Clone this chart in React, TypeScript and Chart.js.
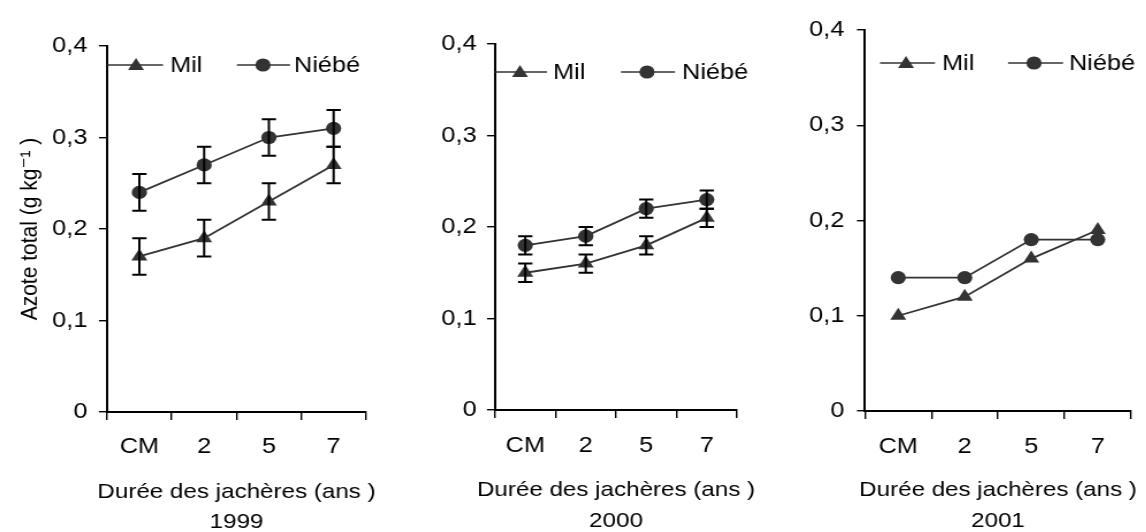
import React, { useEffect, useRef } from 'react';
import { Chart, registerables } from 'chart.js';

Chart.register(...registerables);

// ---------- data ----------
const categories = ['CM', '2', '5', '7'];
const yTickLabels = ['0', '0,1', '0,2', '0,3', '0,4'];
const years = ['1999', '2000', '2001'];
const seriesNames = ['Mil', 'Niébé'];
const xTitle = 'Durée des jachères (ans )';
const yTitle = 'Azote total (g kg⁻¹ )';

const mil1999 = [0.17, 0.19, 0.23, 0.27];
const milErr1999 = [0.02, 0.02, 0.02, 0.02];
const niebe1999 = [0.24, 0.27, 0.30, 0.31];
const niebeErr1999 = [0.02, 0.02, 0.02, 0.02];

const mil2000 = [0.15, 0.16, 0.18, 0.21];
const milErr2000 = [0.01, 0.01, 0.01, 0.01];
const niebe2000 = [0.18, 0.19, 0.22, 0.23];
const niebeErr2000 = [0.01, 0.01, 0.01, 0.01];

const mil2001 = [0.10, 0.12, 0.16, 0.19];
const niebe2001 = [0.14, 0.14, 0.18, 0.18];

const panels = [
  { year: years[0], mil: mil1999, milErr: milErr1999, niebe: niebe1999, niebeErr: niebeErr1999, showYTitle: true },
  { year: years[1], mil: mil2000, milErr: milErr2000, niebe: niebe2000, niebeErr: niebeErr2000, showYTitle: false },
  { year: years[2], mil: mil2001, milErr: null, niebe: niebe2001, niebeErr: null, showYTitle: false },
];

// ---------- layout (page pixels) ----------
const STRETCH = 1.15;
const PAGE_H = 532;
const FONT = "'Liberation Sans', Arial, 'DejaVu Sans', sans-serif";
const INK = '#333333';

const layoutCfg = [
  { cx: 0, cw: 380, left: 107, right: 366, top: 46, bottom: 412, yPad: 10, xPad: 14, titleY: [492, 522],
    legend: { y: 65, mil: [107, 163, 136, 170], niebe: [237, 290, 263, 294] } },
  { cx: 380, cw: 380, left: 495, right: 737, top: 44, bottom: 410, yPad: 9, xPad: 15, titleY: [490, 521],
    legend: { y: 72, mil: [495, 547, 520, 553], niebe: [621, 675, 647, 682] } },
  { cx: 760, cw: 386, left: 865, right: 1131, top: 30, bottom: 411, yPad: 11, xPad: 15, titleY: [490, 521],
    legend: { y: 63, mil: [880, 935, 906, 942], niebe: [1008, 1063, 1034, 1069] } },
];

function drawTriangle(ctx: CanvasRenderingContext2D, x: number, y: number, r: number) {
  ctx.beginPath();
  ctx.moveTo(x, y - r);
  ctx.lineTo(x + r * Math.sin((2 * Math.PI) / 3), y + r / 2);
  ctx.lineTo(x - r * Math.sin((2 * Math.PI) / 3), y + r / 2);
  ctx.closePath();
  ctx.fill();
}

function drawCircle(ctx: CanvasRenderingContext2D, x: number, y: number, r: number) {
  ctx.beginPath();
  ctx.arc(x, y, r, 0, Math.PI * 2);
  ctx.fill();
}

const TRI_R = 8;
const CIRC_R = 6.6;

function Panel({ idx }: { idx: number }) {
  const ref = useRef<HTMLCanvasElement>(null);
  const L = layoutCfg[idx];
  const P = panels[idx];
  const iw = Math.round(L.cw / STRETCH);
  const sx = L.cw / iw;

  useEffect(() => {
    const toX = (px: number) => (px - L.cx) / sx;
    const yAxisWidth = toX(L.left);
    const padRight = iw - toX(L.right);
    const xAxisHeight = PAGE_H - L.bottom;

    const errorBars = {
      id: 'errorBars',
      afterDatasetsDraw(chart: any) {
        const ctx = chart.ctx as CanvasRenderingContext2D;
        const ys = chart.scales.y;
        const errs = [P.milErr, P.niebeErr];
        ctx.save();
        ctx.strokeStyle = '#000';
        ctx.lineWidth = 2;
        errs.forEach((err, di) => {
          if (!err) return;
          const data = chart.data.datasets[di].data as number[];
          const meta = chart.getDatasetMeta(di);
          err.forEach((e: number, i: number) => {
            const px = meta.data[i].x;
            const yHi = ys.getPixelForValue(data[i] + e);
            const yLo = ys.getPixelForValue(data[i] - e);
            const cap = 6.2;
            ctx.beginPath();
            ctx.moveTo(px, yHi);
            ctx.lineTo(px, yLo);
            ctx.moveTo(px - cap, yHi);
            ctx.lineTo(px + cap, yHi);
            ctx.moveTo(px - cap, yLo);
            ctx.lineTo(px + cap, yLo);
            ctx.stroke();
          });
        });
        ctx.restore();
      },
    };

    const legendPlugin = {
      id: 'customLegend',
      afterDraw(chart: any) {
        const ctx = chart.ctx as CanvasRenderingContext2D;
        const lg = L.legend;
        ctx.save();
        ctx.strokeStyle = INK;
        ctx.fillStyle = INK;
        ctx.lineWidth = 1.6;
        ctx.beginPath();
        ctx.moveTo(toX(lg.mil[0]), lg.y);
        ctx.lineTo(toX(lg.mil[1]), lg.y);
        ctx.stroke();
        drawTriangle(ctx, toX(lg.mil[2]), lg.y + 1, TRI_R);
        ctx.beginPath();
        ctx.moveTo(toX(lg.niebe[0]), lg.y);
        ctx.lineTo(toX(lg.niebe[1]), lg.y);
        ctx.stroke();
        drawCircle(ctx, toX(lg.niebe[2]), lg.y, CIRC_R);
        ctx.fillStyle = '#000';
        ctx.font = `22px ${FONT}`;
        ctx.textAlign = 'left';
        ctx.textBaseline = 'middle';
        ctx.fillText(seriesNames[0], toX(lg.mil[3]), lg.y + 1);
        ctx.fillText(seriesNames[1], toX(lg.niebe[3]), lg.y + 1);

        // x-axis title (two lines), centred under the plot area
        const ca = chart.chartArea;
        const cxm = (ca.left + ca.right) / 2;
        ctx.font = `21px ${FONT}`;
        ctx.textAlign = 'center';
        ctx.fillText(xTitle, cxm, L.titleY[0]);
        ctx.fillText(P.year, cxm, L.titleY[1]);
        ctx.restore();
      },
    };

    const chart = new Chart(ref.current as HTMLCanvasElement, {
      type: 'line',
      data: {
        labels: categories,
        datasets: [
          {
            label: seriesNames[0],
            data: P.mil,
            borderColor: INK,
            backgroundColor: INK,
            borderWidth: 1.8,
            pointStyle: 'triangle',
            pointRadius: TRI_R,
            pointBackgroundColor: INK,
            pointBorderColor: INK,
            pointBorderWidth: 0,
            tension: 0,
            fill: false,
          },
          {
            label: seriesNames[1],
            data: P.niebe,
            borderColor: INK,
            backgroundColor: INK,
            borderWidth: 1.8,
            pointStyle: 'circle',
            pointRadius: CIRC_R,
            pointBackgroundColor: INK,
            pointBorderColor: INK,
            pointBorderWidth: 0,
            tension: 0,
            fill: false,
          },
        ],
      },
      options: {
        responsive: false,
        animation: false,
        devicePixelRatio: 1,
        layout: { padding: { top: L.top, right: padRight, bottom: 0, left: 0 } },
        plugins: {
          legend: { display: false },
          tooltip: { enabled: false },
          title: { display: false },
        },
        scales: {
          x: {
            type: 'category',
            offset: true,
            grid: {
              display: true,
              drawOnChartArea: false,
              drawTicks: true,
              tickLength: 8,
              offset: true,
              color: '#000',
              lineWidth: 1.4,
            },
            border: { display: true, color: '#000', width: 2 },
            ticks: {
              color: '#000',
              font: { size: 22, family: FONT },
              padding: L.xPad,
              maxRotation: 0,
              autoSkip: false,
              callback: (_v: any, i: number) => categories[i],
            },
            title: { display: false },
            afterFit: (s: any) => {
              s.height = xAxisHeight;
            },
          },
          y: {
            type: 'linear',
            min: 0,
            max: 0.4,
            grid: {
              display: true,
              drawOnChartArea: false,
              drawTicks: true,
              tickLength: 7,
              color: '#000',
              lineWidth: 1.4,
            },
            border: { display: true, color: '#000', width: 2 },
            ticks: {
              stepSize: 0.1,
              color: '#000',
              font: { size: 22, family: FONT },
              padding: L.yPad,
              callback: (v: any, i: number) => yTickLabels[i] ?? String(v),
            },
            title: {
              display: P.showYTitle,
              text: yTitle,
              color: '#000',
              font: { size: 21, family: FONT, lineHeight: 1.2 },
              padding: { top: 14, bottom: 0 },
            },
            afterFit: (s: any) => {
              s.width = yAxisWidth;
            },
          },
        },
      },
      plugins: [errorBars, legendPlugin],
    } as any);

    return () => chart.destroy();
  }, []);

  return (
    <div
      style={{
        position: 'absolute',
        left: L.cx,
        top: 0,
        width: iw,
        height: PAGE_H,
        transform: `scaleX(${sx})`,
        transformOrigin: '0 0',
      }}
    >
      <canvas ref={ref} width={iw} height={PAGE_H} />
    </div>
  );
}

export default function App() {
  return (
    <div
      style={{
        position: 'absolute',
        left: 0,
        top: 0,
        width: 1146,
        height: PAGE_H,
        overflow: 'hidden',
        background: '#fff',
      }}
    >
      {panels.map((_, i) => (
        <Panel key={i} idx={i} />
      ))}
    </div>
  );
}
